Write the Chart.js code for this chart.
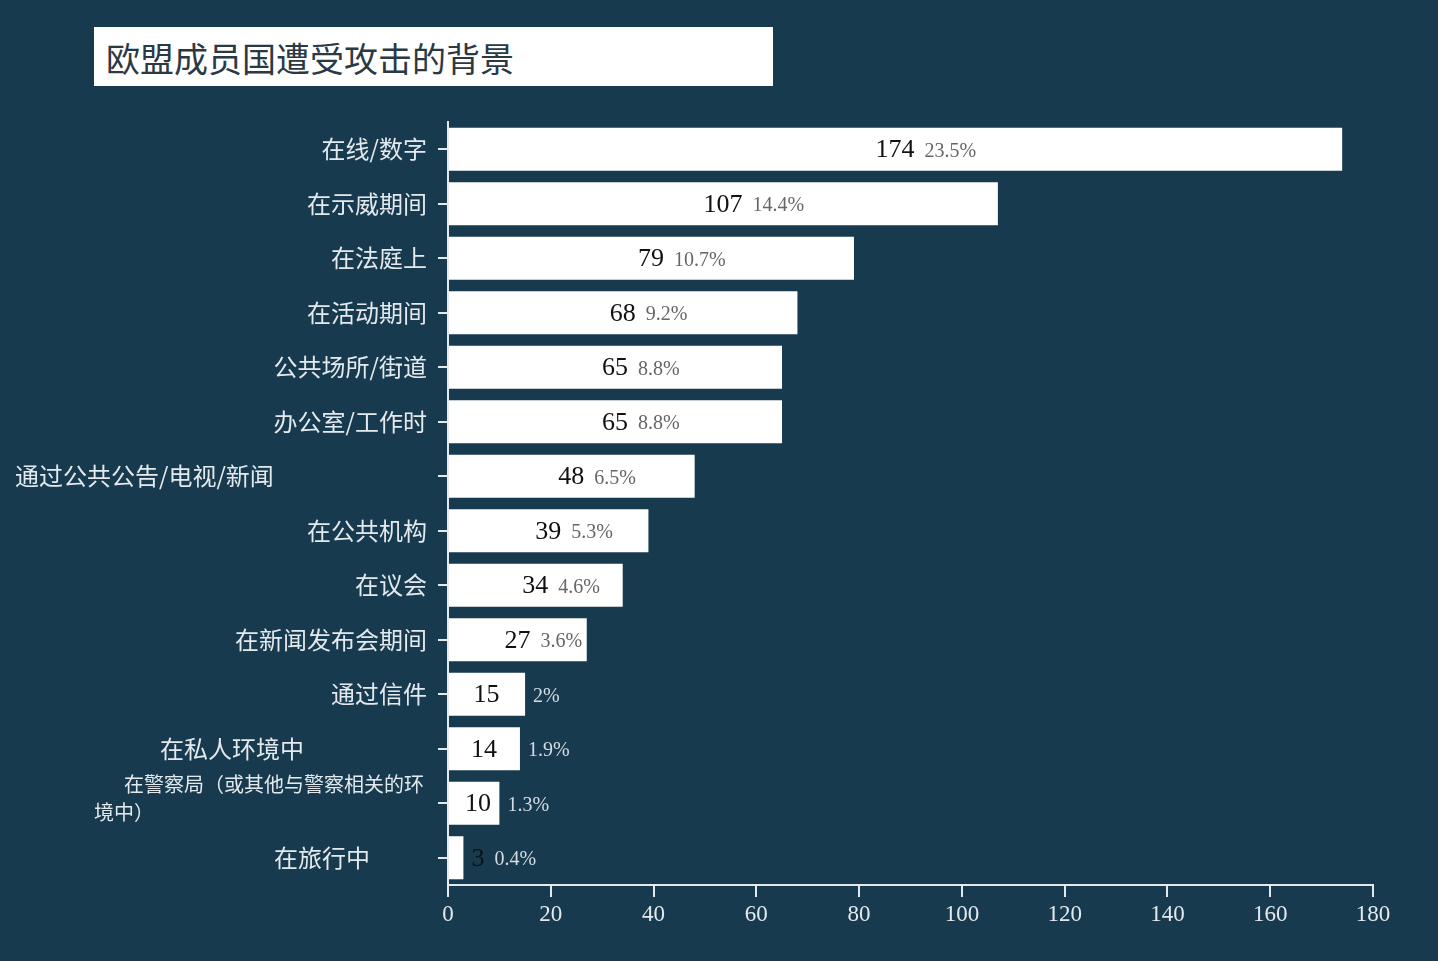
<!DOCTYPE html>
<html>
<head>
<meta charset="utf-8">
<script src="https://cdn.jsdelivr.net/npm/chart.js@4"></script>
<style>
  html, body { margin: 0; padding: 0; background: #183a4f; }
  #wrap { position: relative; width: 1438px; height: 961px; }
  #title {
    position: absolute; left: 94px; top: 27px; width: 679px; height: 59px;
    background: #fff; color: #2b3945; box-sizing: border-box; padding-left: 12px;
    font: 34px "Noto Sans CJK SC", sans-serif; line-height: 61px;
  }
  canvas { position: absolute; left: 0; top: 0; }
</style>
</head>
<body>
<div id="wrap">
  <canvas id="chart" width="1438" height="961"></canvas>
  <div id="title">欧盟成员国遭受攻击的背景</div>
</div>
<script>
const categories = [
  "在线/数字", "在示威期间", "在法庭上", "在活动期间", "公共场所/街道",
  "办公室/工作时", "通过公共公告/电视/新闻", "在公共机构", "在议会",
  "在新闻发布会期间", "通过信件", "在私人环境中",
  ["在警察局（或其他与警察相关的环", "境中）"], "在旅行中"
];
const counts = [174, 107, 79, 68, 65, 65, 48, 39, 34, 27, 15, 14, 10, 3];
const shares = ["23.5%", "14.4%", "10.7%", "9.2%", "8.8%", "8.8%", "6.5%", "5.3%",
  "4.6%", "3.6%", "2%", "1.9%", "1.3%", "0.4%"];
const xTicks = [0, 20, 40, 60, 80, 100, 120, 140, 160, 180];

const LIGHT = '#e3e9ed';
const SERIF = '"Liberation Serif", "DejaVu Serif", serif';
const CJK = '"Noto Sans CJK SC", sans-serif';

// odd label placements copied from the original layout
const labelLayout = {
  6: { align: 'left', x: 15 },
  11: { align: 'center', x: 232 },
  12: { wrap: true },
  13: { align: 'right', x: 370 }
};

const yLabels = {
  id: 'yLabels',
  afterDraw(chart) {
    const { ctx, scales: { y } } = chart;
    ctx.save();
    ctx.fillStyle = LIGHT;
    ctx.textBaseline = 'middle';
    categories.forEach((cat, i) => {
      const py = y.getPixelForValue(i);
      const lay = labelLayout[i] || { align: 'right', x: 427 };
      if (lay.wrap) {
        ctx.font = '20px ' + CJK;
        ctx.textAlign = 'right';
        ctx.fillText(cat[0], 424, py - 19);
        ctx.textAlign = 'left';
        ctx.fillText(cat[1], 94, py + 9);
        return;
      }
      ctx.font = '24px ' + CJK;
      ctx.textAlign = lay.align;
      ctx.fillText(cat, lay.x, py);
    });
    ctx.restore();
  }
};

const barLabels = {
  id: 'barLabels',
  afterDatasetsDraw(chart) {
    const { ctx, scales: { x } } = chart;
    const meta = chart.getDatasetMeta(0);
    ctx.save();
    ctx.textBaseline = 'middle';
    meta.data.forEach((bar, i) => {
      const left = x.getPixelForValue(0);
      const cx = Math.max((left + bar.x) / 2, left + 30);
      ctx.font = '26px ' + SERIF;
      ctx.textAlign = 'center';
      ctx.fillStyle = '#111';
      const txt = String(counts[i]);
      const w = ctx.measureText(txt).width;
      ctx.fillText(txt, cx, bar.y + 1);
      ctx.font = '20px ' + SERIF;
      ctx.textAlign = 'left';
      let px = cx + w / 2 + 10;
      const pw = ctx.measureText(shares[i]).width;
      const inside = px + pw < bar.x;
      if (!inside) px = Math.max(px, bar.x + 8);
      ctx.fillStyle = inside ? '#666' : '#d4dce1';
      ctx.fillText(shares[i], px, bar.y + 2);
    });
    ctx.restore();
  }
};

new Chart(document.getElementById('chart'), {
  type: 'bar',
  data: {
    labels: categories,
    datasets: [{
      data: counts,
      backgroundColor: '#ffffff',
      borderWidth: 0,
      barPercentage: 0.79,
      categoryPercentage: 1
    }]
  },
  options: {
    indexAxis: 'y',
    responsive: false,
    animation: false,
    layout: { padding: { top: 122, right: 65, left: 0, bottom: 0 } },
    plugins: { legend: { display: false }, tooltip: { enabled: false } },
    scales: {
      x: {
        min: 0, max: 180,
        afterBuildTicks: s => { s.ticks = xTicks.map(v => ({ value: v })); },
        afterFit: s => { s.height = 76; },
        grid: { drawOnChartArea: false, color: LIGHT, tickLength: 12, lineWidth: 2 },
        border: { color: LIGHT, width: 2 },
        ticks: { color: LIGHT, font: { family: SERIF, size: 23 }, padding: 4 }
      },
      y: {
        afterFit: s => { s.width = 448; },
        grid: { drawOnChartArea: false, color: LIGHT, tickLength: 10, lineWidth: 2, offset: false },
        border: { color: LIGHT, width: 2 },
        ticks: { display: false }
      }
    }
  },
  plugins: [yLabels, barLabels]
});
</script>
</body>
</html>
